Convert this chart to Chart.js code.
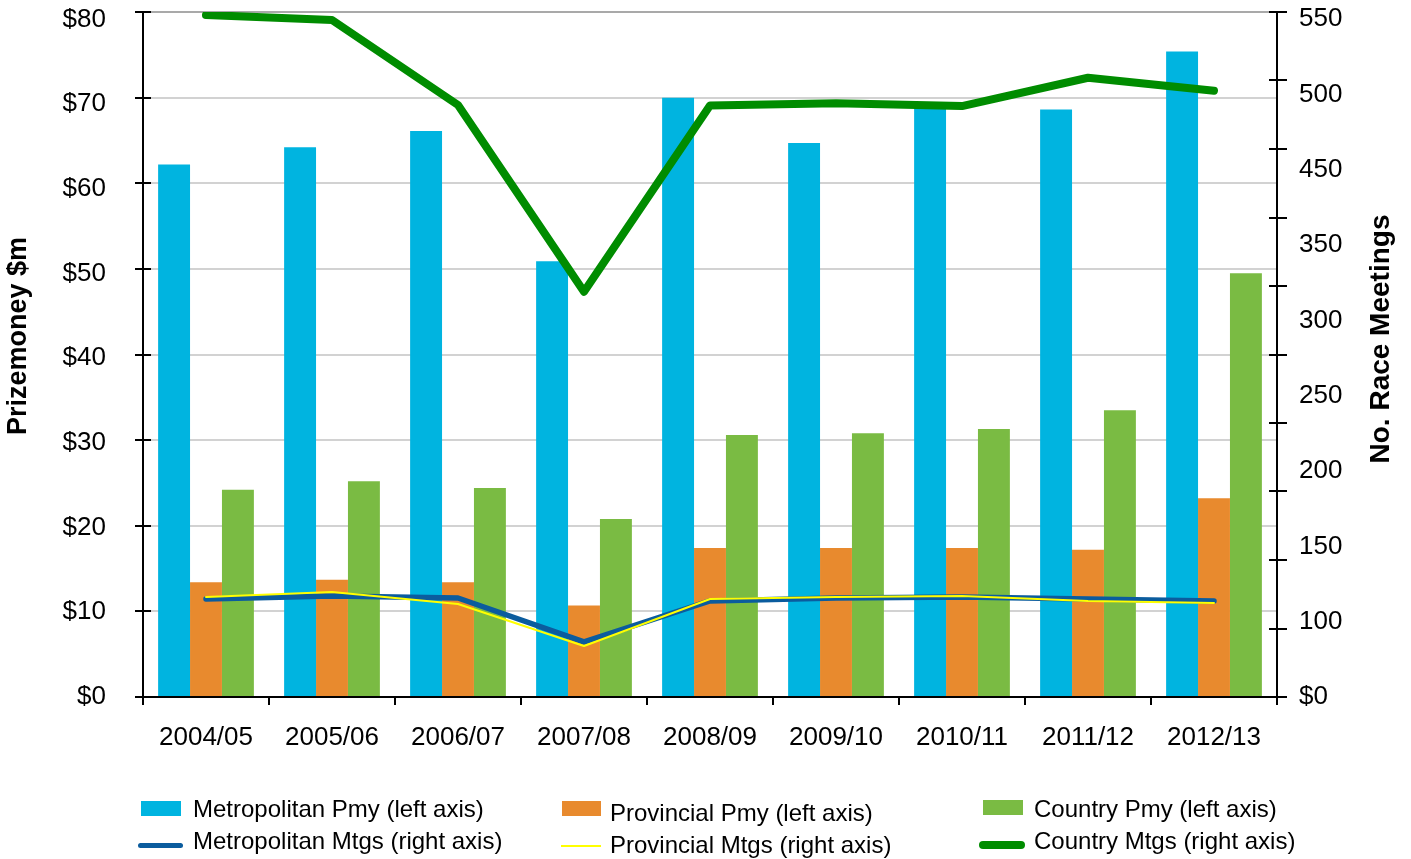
<!DOCTYPE html>
<html>
<head>
<meta charset="utf-8">
<script src="https://cdn.jsdelivr.net/npm/chart.js@4.4.1/dist/chart.umd.min.js"></script>
<style>
  body { margin: 0; background: #fff; }
  #wrap { position: relative; width: 1411px; height: 859px; }
  #legend { position: absolute; left: 0; top: 0; font-family: "Liberation Sans", Arial, sans-serif; font-size: 24px; color: #000; }
  .sw { position: absolute; }
  .lbl { position: absolute; white-space: nowrap; line-height: 1.2; }
</style>
</head>
<body>
<div id="wrap">
  <canvas id="myChart" width="1411" height="859"></canvas>
  <div id="legend"></div>
</div>
<script>
// data
var seasons = ['2004/05', '2005/06', '2006/07', '2007/08', '2008/09', '2009/10', '2010/11', '2011/12', '2012/13']
var metroPmy = [62.2, 64.2, 66.1, 50.9, 70.0, 64.7, 69.1, 68.6, 75.4]
var provPmy = [13.4, 13.7, 13.4, 10.7, 17.4, 17.4, 17.4, 17.2, 23.2]
var countryPmy = [24.2, 25.2, 24.4, 20.8, 30.6, 30.8, 31.3, 33.5, 49.5]
// meetings, on the right axis (0 - 550 across the plot height)
var metroMtgs = [78.7, 81.1, 79.5, 44.2, 77.1, 79.5, 80.3, 78.7, 77.1]
var provMtgs = [80.3, 84.3, 74.7, 40.9, 78.7, 80.3, 81.1, 77.1, 75.5]
var countryMtgs = [547.6, 543.6, 475.3, 325.4, 474.9, 476.7, 474.5, 497.2, 486.8]

var leftTicks = [0, 10, 20, 30, 40, 50, 60, 70, 80]
var rightTickLabels = ['$0', '100', '150', '200', '250', '300', '350', '450', '500', '550']
var leftTitle = 'Prizemoney $m'
var rightTitle = 'No. Race Meetings'

const FONT = '"Liberation Sans", Arial, sans-serif'
Chart.defaults.font.family = FONT
Chart.defaults.color = '#000'

// black tick marks crossing the axes + the two axis titles
const axisExtras = {
  id: 'axisExtras',
  afterDraw(chart) {
    const ctx = chart.ctx
    const area = chart.chartArea
    const s = chart.scales
    ctx.save()
    ctx.strokeStyle = '#000'
    ctx.lineWidth = 2
    ctx.beginPath()
    s.y.ticks.forEach(function (t) {
      var py = Math.round(s.y.getPixelForValue(t.value))
      ctx.moveTo(area.left - 8, py)
      ctx.lineTo(area.left + 8, py)
    })
    s.y1.ticks.forEach(function (t) {
      var py = Math.round(s.y1.getPixelForValue(t.value))
      ctx.moveTo(area.right - 8, py)
      ctx.lineTo(area.right + 10, py)
    })
    for (var i = 0; i <= seasons.length; i++) {
      var px = Math.round(s.x.getPixelForValue(i - 0.5))
      ctx.moveTo(px, area.bottom)
      ctx.lineTo(px, area.bottom + 8)
    }
    ctx.stroke()

    ctx.fillStyle = '#000'
    ctx.font = 'bold 27px ' + FONT
    ctx.textAlign = 'center'
    ctx.textBaseline = 'middle'
    ctx.translate(19, 336)
    ctx.rotate(-Math.PI / 2)
    ctx.fillText(leftTitle, 0, 0)
    ctx.restore()

    ctx.save()
    ctx.fillStyle = '#000'
    ctx.font = 'bold 28px ' + FONT
    ctx.textAlign = 'center'
    ctx.textBaseline = 'middle'
    ctx.translate(1381, 339)
    ctx.rotate(-Math.PI / 2)
    ctx.fillText(rightTitle, 0, 0)
    ctx.restore()
  }
}

function bar(label, data, color) {
  return { type: 'bar', label: label, data: data, yAxisID: 'y', backgroundColor: color,
    borderWidth: 0, categoryPercentage: 0.76, barPercentage: 1, order: 5 }
}
function line(label, data, color, width, order) {
  return { type: 'line', label: label, data: data, yAxisID: 'y1', borderColor: color, backgroundColor: color,
    borderWidth: width, pointRadius: 0, pointHoverRadius: 0, fill: false, tension: 0,
    borderCapStyle: 'round', borderJoinStyle: 'round', order: order }
}

const ctx = document.getElementById('myChart')
const myChart = new Chart(ctx, {
  type: 'bar',
  data: {
    labels: seasons,
    datasets: [
      bar('Metropolitan Pmy (left axis)', metroPmy, '#00B4E0'),
      bar('Provincial Pmy (left axis)', provPmy, '#E88A2E'),
      bar('Country Pmy (left axis)', countryPmy, '#7ABB43'),
      line('Metropolitan Mtgs (right axis)', metroMtgs, '#0B5C9E', 5.5, 2),
      line('Provincial Mtgs (right axis)', provMtgs, '#FFFF00', 2, 1),
      line('Country Mtgs (right axis)', countryMtgs, '#008C00', 8, 2)
    ]
  },
  options: {
    responsive: false,
    animation: false,
    devicePixelRatio: 1,
    layout: { padding: { top: 12, left: 0, right: 0, bottom: 0 } },
    plugins: { legend: { display: false }, tooltip: { enabled: false } },
    scales: {
      x: {
        offset: true,
        grid: { display: false },
        border: { color: '#000', width: 2 },
        ticks: { font: { size: 26 }, padding: 17, maxRotation: 0, autoSkip: false },
        afterFit: function (s) { s.height = 162 }
      },
      y: {
        position: 'left',
        min: 0, max: 80,
        ticks: { display: false, stepSize: 10, padding: 0 },
        grid: { drawTicks: false, lineWidth: 2,
          color: function (c) { return c.tick && c.tick.value === 80 ? '#a9a9a9' : '#d2d2d2' } },
        border: { color: '#000', width: 2 },
        afterFit: function (s) { s.width = 0 }
      },
      yLabels: {
        position: 'left',
        weight: 1,
        min: 0, max: 80.886,
        grid: { display: false, drawTicks: true, tickLength: 37 },
        border: { display: false },
        ticks: { font: { size: 26, lineHeight: 0.9 }, padding: 0, callback: function (v) { return '$' + v } },
        afterBuildTicks: function (s) { s.ticks = leftTicks.map(function (v) { return { value: v } }) },
        afterFit: function (s) { s.width = 143 }
      },
      y1: {
        position: 'right',
        min: 0, max: 550,
        ticks: { display: false, stepSize: 55, padding: 0 },
        grid: { display: false, drawTicks: false },
        border: { color: '#000', width: 2 },
        afterFit: function (s) { s.width = 0 }
      },
      y2: {
        position: 'right',
        weight: 1,
        min: 0, max: 9.093,
        grid: { display: false, drawTicks: true, tickLength: 22 },
        border: { display: false },
        ticks: { font: { size: 26, lineHeight: 0.9 }, padding: 0, callback: function (v) { return rightTickLabels[v] } },
        afterBuildTicks: function (s) { s.ticks = rightTickLabels.map(function (_, i) { return { value: i } }) },
        afterFit: function (s) { s.width = 134 }
      }
    }
  },
  plugins: [axisExtras]
})

// legend: 3 columns x 2 rows, built from the datasets
var spots = [
  { x: 141, y: 801, w: 40, h: 14.5, tx: 193, ty: 809 },
  { x: 562, y: 801, w: 39, h: 14.5, tx: 610, ty: 813 },
  { x: 983, y: 800, w: 40, h: 15, tx: 1034, ty: 809 },
  { x: 138, y: 845.5, w: 45, tx: 193, ty: 841 },
  { x: 561, y: 845.7, w: 40, tx: 610, ty: 845 },
  { x: 979, y: 845, w: 46, tx: 1034, ty: 841 }
]
var legend = document.getElementById('legend')
myChart.data.datasets.forEach(function (ds, i) {
  var p = spots[i]
  var sw = document.createElement('div')
  sw.className = 'sw'
  if (ds.type === 'bar') {
    sw.style.cssText = 'left:' + p.x + 'px;top:' + p.y + 'px;width:' + p.w + 'px;height:' + p.h + 'px;background:' + ds.backgroundColor
  } else {
    var t = ds.borderWidth
    sw.style.cssText = 'left:' + p.x + 'px;top:' + (p.y - t / 2) + 'px;width:' + p.w + 'px;height:' + t + 'px;background:' +
      ds.borderColor + ';border-radius:' + (t > 3 ? t / 2 : 0) + 'px'
  }
  legend.appendChild(sw)
  var lbl = document.createElement('div')
  lbl.className = 'lbl'
  lbl.style.left = p.tx + 'px'
  lbl.style.top = (p.ty - 14.1) + 'px'
  lbl.textContent = ds.label
  legend.appendChild(lbl)
})
</script>
</body>
</html>
